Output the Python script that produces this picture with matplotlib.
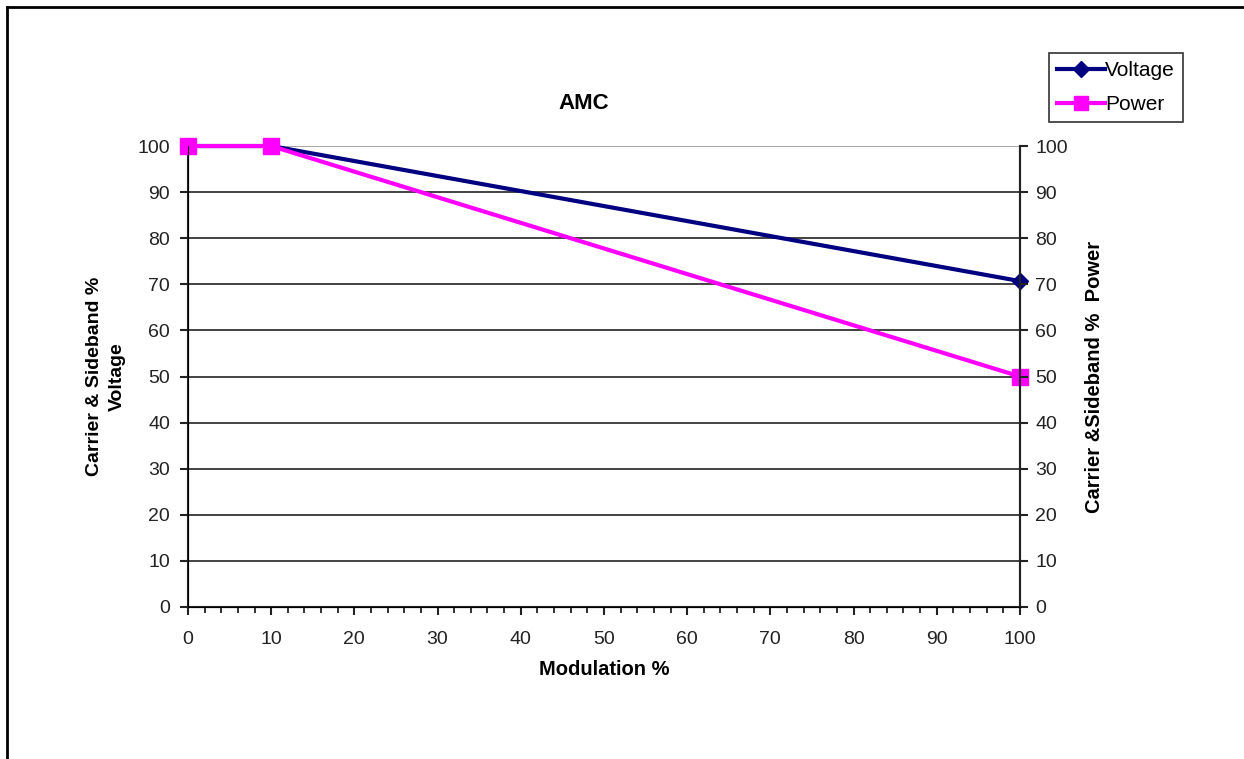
import matplotlib.pyplot as plt
from matplotlib.lines import Line2D
from matplotlib.ticker import MultipleLocator

plt.rcParams['font.family'] = ['Liberation Sans', 'DejaVu Sans']

modulation = [0, 10, 100]
voltage = [100, 100, 70.7]
power = [100, 100, 50]

NAVY = "#000080"
MAGENTA = "#FF00FF"

fig = plt.figure(figsize=(12.44, 7.59), dpi=100)
ax = fig.add_axes([0.1511, 0.2003, 0.6688, 0.6073])

# horizontal gridlines, Excel style
for y in range(10, 100, 10):
    ax.axhline(y, color="#222222", linewidth=1.2, zorder=1)
ax.axhline(100, color="#999999", linewidth=1.2, zorder=1)

ax.plot(modulation, voltage, color=NAVY, linewidth=3, marker="D",
        markersize=8, label="Voltage", zorder=3, clip_on=False)
ax.plot(modulation, power, color=MAGENTA, linewidth=3, marker="s",
        markersize=11, label="Power", zorder=4, clip_on=False)

ax.set_xlim(0, 100)
ax.set_ylim(0, 100)
ax.xaxis.set_major_locator(MultipleLocator(10))
ax.xaxis.set_minor_locator(MultipleLocator(2))
ax.yaxis.set_major_locator(MultipleLocator(10))
ax.spines["top"].set_visible(False)
for s in ("left", "right", "bottom"):
    ax.spines[s].set_linewidth(1.5)
    ax.spines[s].set_color("#222222")
ax.tick_params(axis="x", which="major", direction="out", length=6, width=1.5,
               pad=11, labelsize=14, colors="#222222")
ax.tick_params(axis="x", which="minor", direction="out", length=4, width=1.3,
               colors="#222222")
ax.tick_params(axis="y", direction="out", length=6, width=1.5, pad=7,
               labelsize=14, colors="#222222")

ax2 = ax.twinx()
ax2.set_ylim(0, 100)
ax2.yaxis.set_major_locator(MultipleLocator(10))
ax2.spines["top"].set_visible(False)
ax2.spines["right"].set_linewidth(1.5)
ax2.spines["right"].set_color("#222222")
ax2.tick_params(axis="y", direction="out", length=6, width=1.5, pad=5,
                labelsize=14, colors="#222222")

ax.set_xlabel("Modulation %", fontsize=14.5, fontweight="bold", labelpad=9)
ax.set_ylabel("Carrier & Sideband %\nVoltage", fontsize=14, fontweight="bold",
              labelpad=8, linespacing=1.45)
ax2.set_ylabel("Carrier &Sideband %  Power", fontsize=14.5, fontweight="bold",
               labelpad=12)
ax.set_title("AMC", fontsize=16, fontweight="bold", pad=27)
ax.title.set_x(0.476)

handles = [
    Line2D([], [], color=NAVY, linewidth=3, marker="D", markersize=8),
    Line2D([], [], color=MAGENTA, linewidth=3, marker="s", markersize=10),
]
leg = fig.legend(handles, ["Voltage", "Power"], loc="upper left",
                 bbox_to_anchor=(1049 / 1244, 1 - 53 / 759), fontsize=15,
                 frameon=True, fancybox=False, edgecolor="black",
                 handlelength=2.3, handletextpad=0.0, borderpad=0.4,
                 labelspacing=0.7, borderaxespad=0)
leg.get_frame().set_linewidth(1.2)

# page frame (top and left edges visible)
fig.add_artist(Line2D([7 / 1244, 1.0], [1 - 7 / 759] * 2, color="black",
                      linewidth=2, transform=fig.transFigure))
fig.add_artist(Line2D([7 / 1244] * 2, [0.0, 1 - 7 / 759], color="black",
                      linewidth=2, transform=fig.transFigure))

fig.savefig("out.png", dpi=100)
